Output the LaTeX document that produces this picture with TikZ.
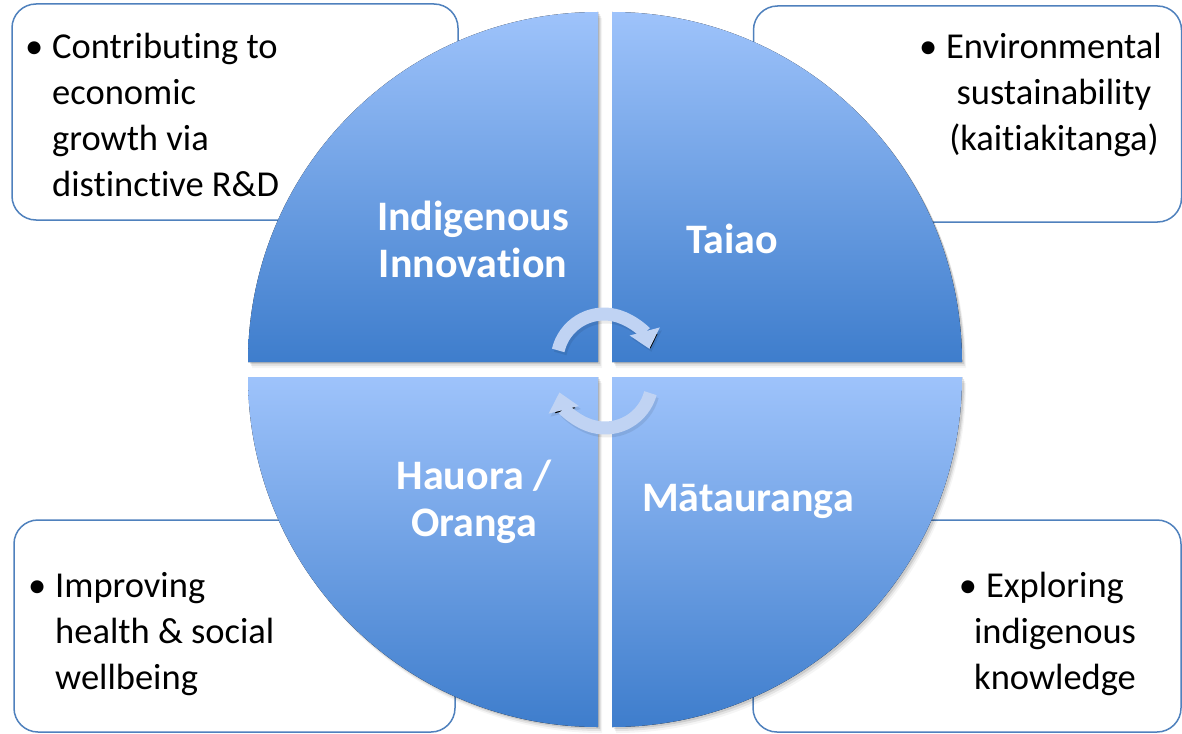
\documentclass[tikz,border=0pt]{standalone}
\usepackage{fontspec}
\setmainfont{Carlito}[Ligatures=NoCommon]
\usetikzlibrary{arrows.meta}

\newlength{\du}
\setlength{\du}{1pt}

\definecolor{wedgetop}{RGB}{158,195,251}
\definecolor{wedgebottom}{RGB}{62,125,204}
\definecolor{boxline}{RGB}{79,129,189}
\definecolor{arrowfill}{RGB}{192,211,243}

\tikzset{
  infobox/.style={draw=boxline, line width=1.5\du, fill=white, rounded corners=24\du, inner sep=0pt},
  bodytext/.style={text=black, font=\fontsize{36.5}{46}\selectfont, inner sep=0pt},
  titletext/.style={text=white, font=\fontsize{42}{47}\selectfont\bfseries, align=center, inner sep=0pt},
  wedge/.style={top color=wedgetop, bottom color=wedgebottom},
  turnarrow/.style={draw=arrowfill, line width=13pt, -{Triangle[width=30pt,length=18pt]}},
  turnshadow/.style={draw=black, draw opacity=0.08, line width=13pt, -{Triangle[width=30pt,length=18pt]}}
}

\begin{document}
\begin{tikzpicture}[x=\du,y=-\du]
\useasboundingbox (0,0) rectangle (1182,733);
\fill[white] (0,0) rectangle (1182,733);

% boxes behind the circle
\node[infobox, minimum width=446\du, minimum height=216\du] (boxTL) at (235,112) {};
\node[infobox, minimum width=428\du, minimum height=216\du] (boxTR) at (967.5,114) {};
\node[infobox, minimum width=441\du, minimum height=212\du] (boxBL) at (234.5,626) {};
\node[infobox, minimum width=428\du, minimum height=212\du] (boxBR) at (967,626) {};

\node[bodytext, align=left, anchor=west] (txtTL) at (52,115) {\llap{\textbullet\hspace{9\du}}Contributing to\\economic\\growth via\\distinctive R\&D};
\node[bodytext, align=center] (txtTR) at (1054,95) {\llap{\textbullet\hspace{9\du}}Environmental\\sustainability\\(kaitiakitanga)};
\node[bodytext, align=left, anchor=west] (txtBL) at (55,634) {\llap{\textbullet\hspace{9\du}}Improving\\health \& social\\wellbeing};
\node[bodytext, align=center] (txtBR) at (1055,634) {\llap{\textbullet\hspace{9\du}}Exploring\\indigenous\\knowledge};

% shadows of the four quarters
\foreach \dx/\dy/\op in {2/2/0.10, 3/4/0.07, 4/6/0.04} {
  \fill[black, fill opacity=\op] ([shift={(\dx,\dy)}]598,362) -- ++(-350,0) arc[start angle=180, end angle=270, radius=350] -- cycle;
  \fill[black, fill opacity=\op] ([shift={(\dx,\dy)}]612,362) -- ++(0,-350) arc[start angle=270, end angle=360, radius=350] -- cycle;
  \fill[black, fill opacity=\op] ([shift={(\dx,\dy)}]612,377) -- ++(350,0) arc[start angle=0, end angle=90, radius=350] -- cycle;
  \fill[black, fill opacity=\op] ([shift={(\dx,\dy)}]598,377) -- ++(0,350) arc[start angle=90, end angle=180, radius=350] -- cycle;
}

% the four quarters
\fill[wedge] (598,362) -- (248,362) arc[start angle=180, end angle=270, radius=350] -- cycle;
\fill[wedge] (612,362) -- (612,12) arc[start angle=270, end angle=360, radius=350] -- cycle;
\fill[wedge] (612,377) -- (962,377) arc[start angle=0, end angle=90, radius=350] -- cycle;
\fill[wedge] (598,377) -- (598,727) arc[start angle=90, end angle=180, radius=350] -- cycle;

\node[titletext] (innovation) at (473,239) {Indigenous\\Innovation};
\node[titletext] (taiao) at (732,239) {Taiao};
\node[titletext] (hauora) at (474,502) {Hauora /\\Oranga};
\node[titletext] (matauranga) at (748,501) {Mātauranga};

% turning arrows
\coordinate (turnA) at (604,361);
\coordinate (turnB) at (605,381);
\draw[turnshadow] ([shift={(193:47)}]turnA) ++(2,3) arc[start angle=193, end angle=345, radius=47];
\draw[turnshadow] ([shift={(15:47)}]turnB) ++(2,3) arc[start angle=15, end angle=166, radius=47];
\draw[turnarrow] ([shift={(193:47)}]turnA) arc[start angle=193, end angle=345, radius=47];
\draw[turnarrow] ([shift={(15:47)}]turnB) arc[start angle=15, end angle=166, radius=47];
\end{tikzpicture}
\end{document}
